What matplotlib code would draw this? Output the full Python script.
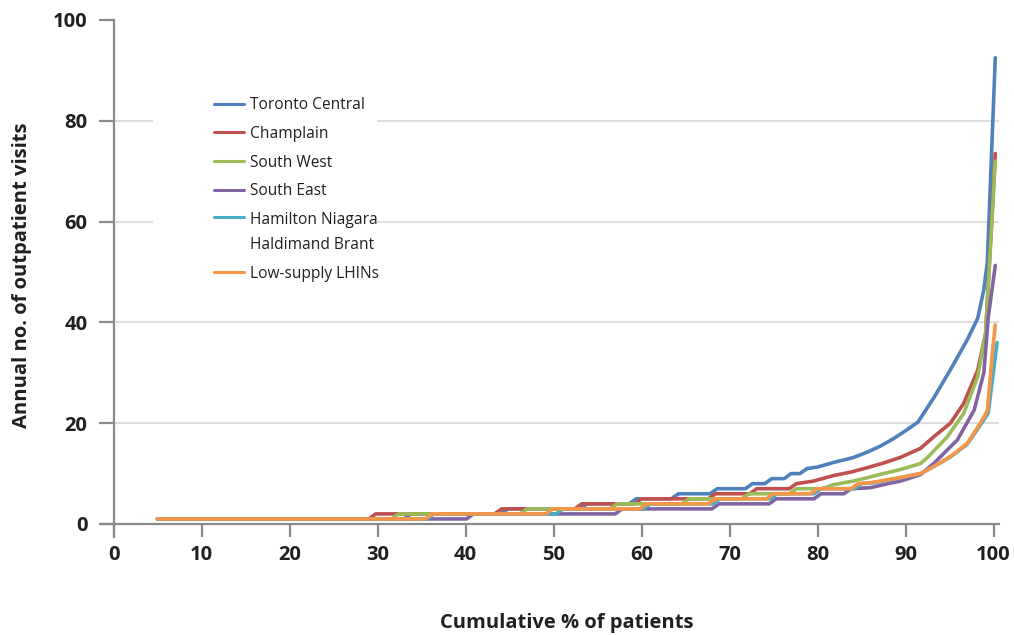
import matplotlib
matplotlib.use("Agg")
import matplotlib.pyplot as plt
from matplotlib.patches import Rectangle

plt.rcParams['font.family'] = ['Open Sans', 'DejaVu Sans']

# ---------------- data ----------------
series_names = ["Toronto Central", "Champlain", "South West", "South East",
                "Hamilton Niagara\nHaldimand Brant", "Low-supply LHINs"]
series_colors = ["#4F81BD", "#C0504D", "#9BBB59", "#8064A2", "#4BACC6", "#F79646"]

toronto_x = [5, 33, 33.8, 44, 44.8, 53, 53.8, 58.6, 59.4, 63.4, 64.2, 67.8, 68.6, 71.8, 72.6,
             74, 74.8, 76.2, 77, 78, 78.8, 80, 81.8, 84.1, 85.7, 87.2, 88.6, 90, 91.4, 93.2,
             95.1, 97.0, 98.2, 98.9, 99.3, 100.2]
toronto_y = [1, 1, 2, 2, 3, 3, 4, 4, 5, 5, 6, 6, 7, 7, 8, 8, 9, 9, 10, 10, 11, 11.3, 12.2,
             13.2, 14.3, 15.5, 16.9, 18.5, 20.2, 25, 30.6, 36.5, 40.8, 46.5, 52, 92.5]

champlain_x = [5, 29, 29.8, 43.3, 44.1, 52.4, 53.2, 59.2, 60, 67.6, 68.4, 72.3, 73.1, 76.8,
               77.6, 79.5, 81.8, 83.8, 85.7, 87.5, 89.4, 91.7, 93.2, 95.1, 96.6, 98.2, 99.1, 100.2]
champlain_y = [1, 1, 2, 2, 3, 3, 4, 4, 5, 5, 6, 6, 7, 7, 8, 8.5, 9.6, 10.3, 11.2, 12.1, 13.2,
               15, 17.3, 20, 23.9, 30.5, 37.8, 73.5]

southwest_x = [5, 31.6, 32.4, 46.2, 47, 56.4, 57.2, 64.6, 65.4, 71.4, 72.2, 76.8, 77.6, 80.5,
               81.8, 84, 85.7, 87, 89.4, 91.7, 92.5, 94.7, 96.6, 98.2, 99.1, 100.2]
southwest_y = [1, 1, 2, 2, 3, 3, 4, 4, 5, 5, 6, 6, 7, 7, 7.8, 8.5, 9.2, 9.8, 10.8, 12, 13.2,
               17.2, 21.9, 29.2, 37.8, 72]

southeast_x = [5, 40.1, 40.9, 57.0, 57.8, 68, 68.8, 74.5, 75.3, 79.6, 80.4, 83, 83.8, 86, 88,
               89.4, 91.7, 93.2, 95.9, 97.8, 98.9, 99.4, 100.2]
southeast_y = [1, 1, 2, 2, 3, 3, 4, 4, 5, 5, 6, 6, 7, 7.2, 8, 8.5, 9.8, 12, 16.7, 22.6, 30, 41, 51.3]

hamilton_x = [5, 35.6, 36.4, 50.3, 51.1, 60.2, 61, 68.1, 68.9, 74.6, 75.4, 79.6, 80.4, 84.2,
              85, 86.5, 89.4, 91.7, 93.2, 95.1, 97, 98.5, 99.4, 100.4]
hamilton_y = [1, 1, 2, 2, 3, 3, 4, 4, 5, 5, 6, 6, 7, 7, 8, 8.2, 9.2, 10, 11.4, 13.3, 15.8,
              19.6, 22, 36]

lowsupply_x = [5, 35.4, 36.2, 49.1, 49.9, 59.8, 60.6, 67.6, 68.4, 74.2, 75, 79.2, 80, 83.8,
               84.6, 86, 89.4, 91.7, 93.2, 95.1, 97, 98.5, 99.3, 99.9, 100.2]
lowsupply_y = [1, 1, 2, 2, 3, 3, 4, 4, 5, 5, 6, 6, 7, 7, 8, 8.2, 9.2, 10, 11.4, 13.4, 16, 20,
               22.5, 34.5, 39.5]

x_ticks = [0, 10, 20, 30, 40, 50, 60, 70, 80, 90, 100]
y_ticks = [0, 20, 40, 60, 80, 100]
grid_levels = [20, 40, 60, 80]

series_x = [toronto_x, champlain_x, southwest_x, southeast_x, hamilton_x, lowsupply_x]
series_y = [toronto_y, champlain_y, southwest_y, southeast_y, hamilton_y, lowsupply_y]

# ---------------- figure ----------------
W, H = 1014, 635
fig = plt.figure(figsize=(W / 100, H / 100), dpi=100)
ax = fig.add_axes([102.1 / W, (H - 537.1) / H, 896.7 / W, 517.1 / H])
ax.set_xlim(-1.3, 100.6)
ax.set_ylim(-2.6, 100)

axis_gray = "#8a8a8a"
text_col = "#231f20"

ax.hlines(grid_levels, 0, 100.6, colors="#d4d4d4", linewidth=1.1, zorder=0)

# white box behind legend (interrupts grid lines)
ax.add_patch(Rectangle((153 / W, 1 - 92 / H), (377 - 153) / W, (92 - 290) / H,
                       transform=fig.transFigure, facecolor="white", edgecolor="none",
                       zorder=0.5))

for xs, ys, name, col in zip(series_x, series_y, series_names, series_colors):
    ax.plot(xs, ys, color=col, linewidth=2.6, label=name, solid_joinstyle="round",
            solid_capstyle="round", zorder=3)

for s in ["top", "right"]:
    ax.spines[s].set_visible(False)
ax.spines["left"].set_position(("data", 0))
ax.spines["bottom"].set_position(("data", 0))
for s in ["left", "bottom"]:
    ax.spines[s].set_color(axis_gray)
    ax.spines[s].set_linewidth(1.6)

ax.set_xticks(x_ticks)
ax.set_yticks(y_ticks)
ax.set_xticklabels([str(v) for v in x_ticks])
ax.set_yticklabels([str(v) for v in y_ticks])
ax.tick_params(axis="x", direction="out", length=9.4, width=1.6, color=axis_gray, pad=6,
               labelsize=14.5, labelcolor=text_col)
ax.tick_params(axis="y", direction="out", length=10.8, width=1.6, color=axis_gray, pad=8,
               labelsize=14.5, labelcolor=text_col)
for lab in ax.get_xticklabels() + ax.get_yticklabels():
    lab.set_fontweight("bold")

fig.text(567 / W, 1 - 623 / H, "Cumulative % of patients", ha="center", va="center",
         fontsize=14.5, fontweight="bold", color=text_col)
fig.text(22 / W, 1 - 275 / H, "Annual no. of outpatient visits", ha="center", va="center",
         rotation=90, fontsize=14.5, fontweight="bold", color=text_col)

leg = ax.legend(loc="upper left", bbox_to_anchor=(214 / W, 1 - 97 / H),
                bbox_transform=fig.transFigure, frameon=False, fontsize=11.2,
                handlelength=1.9, handletextpad=0.4, labelspacing=0.82,
                borderpad=0, borderaxespad=0)
for t in leg.get_texts():
    t.set_color(text_col)
for h in leg.legend_handles:
    h.set_linewidth(2.2)
leg.get_texts()[4].set_linespacing(1.75)
try:
    rows = leg._legend_handle_box.get_children()[0].get_children()
    rows[4].align = "top"
except Exception:
    pass

fig.savefig("out.png", dpi=100)
